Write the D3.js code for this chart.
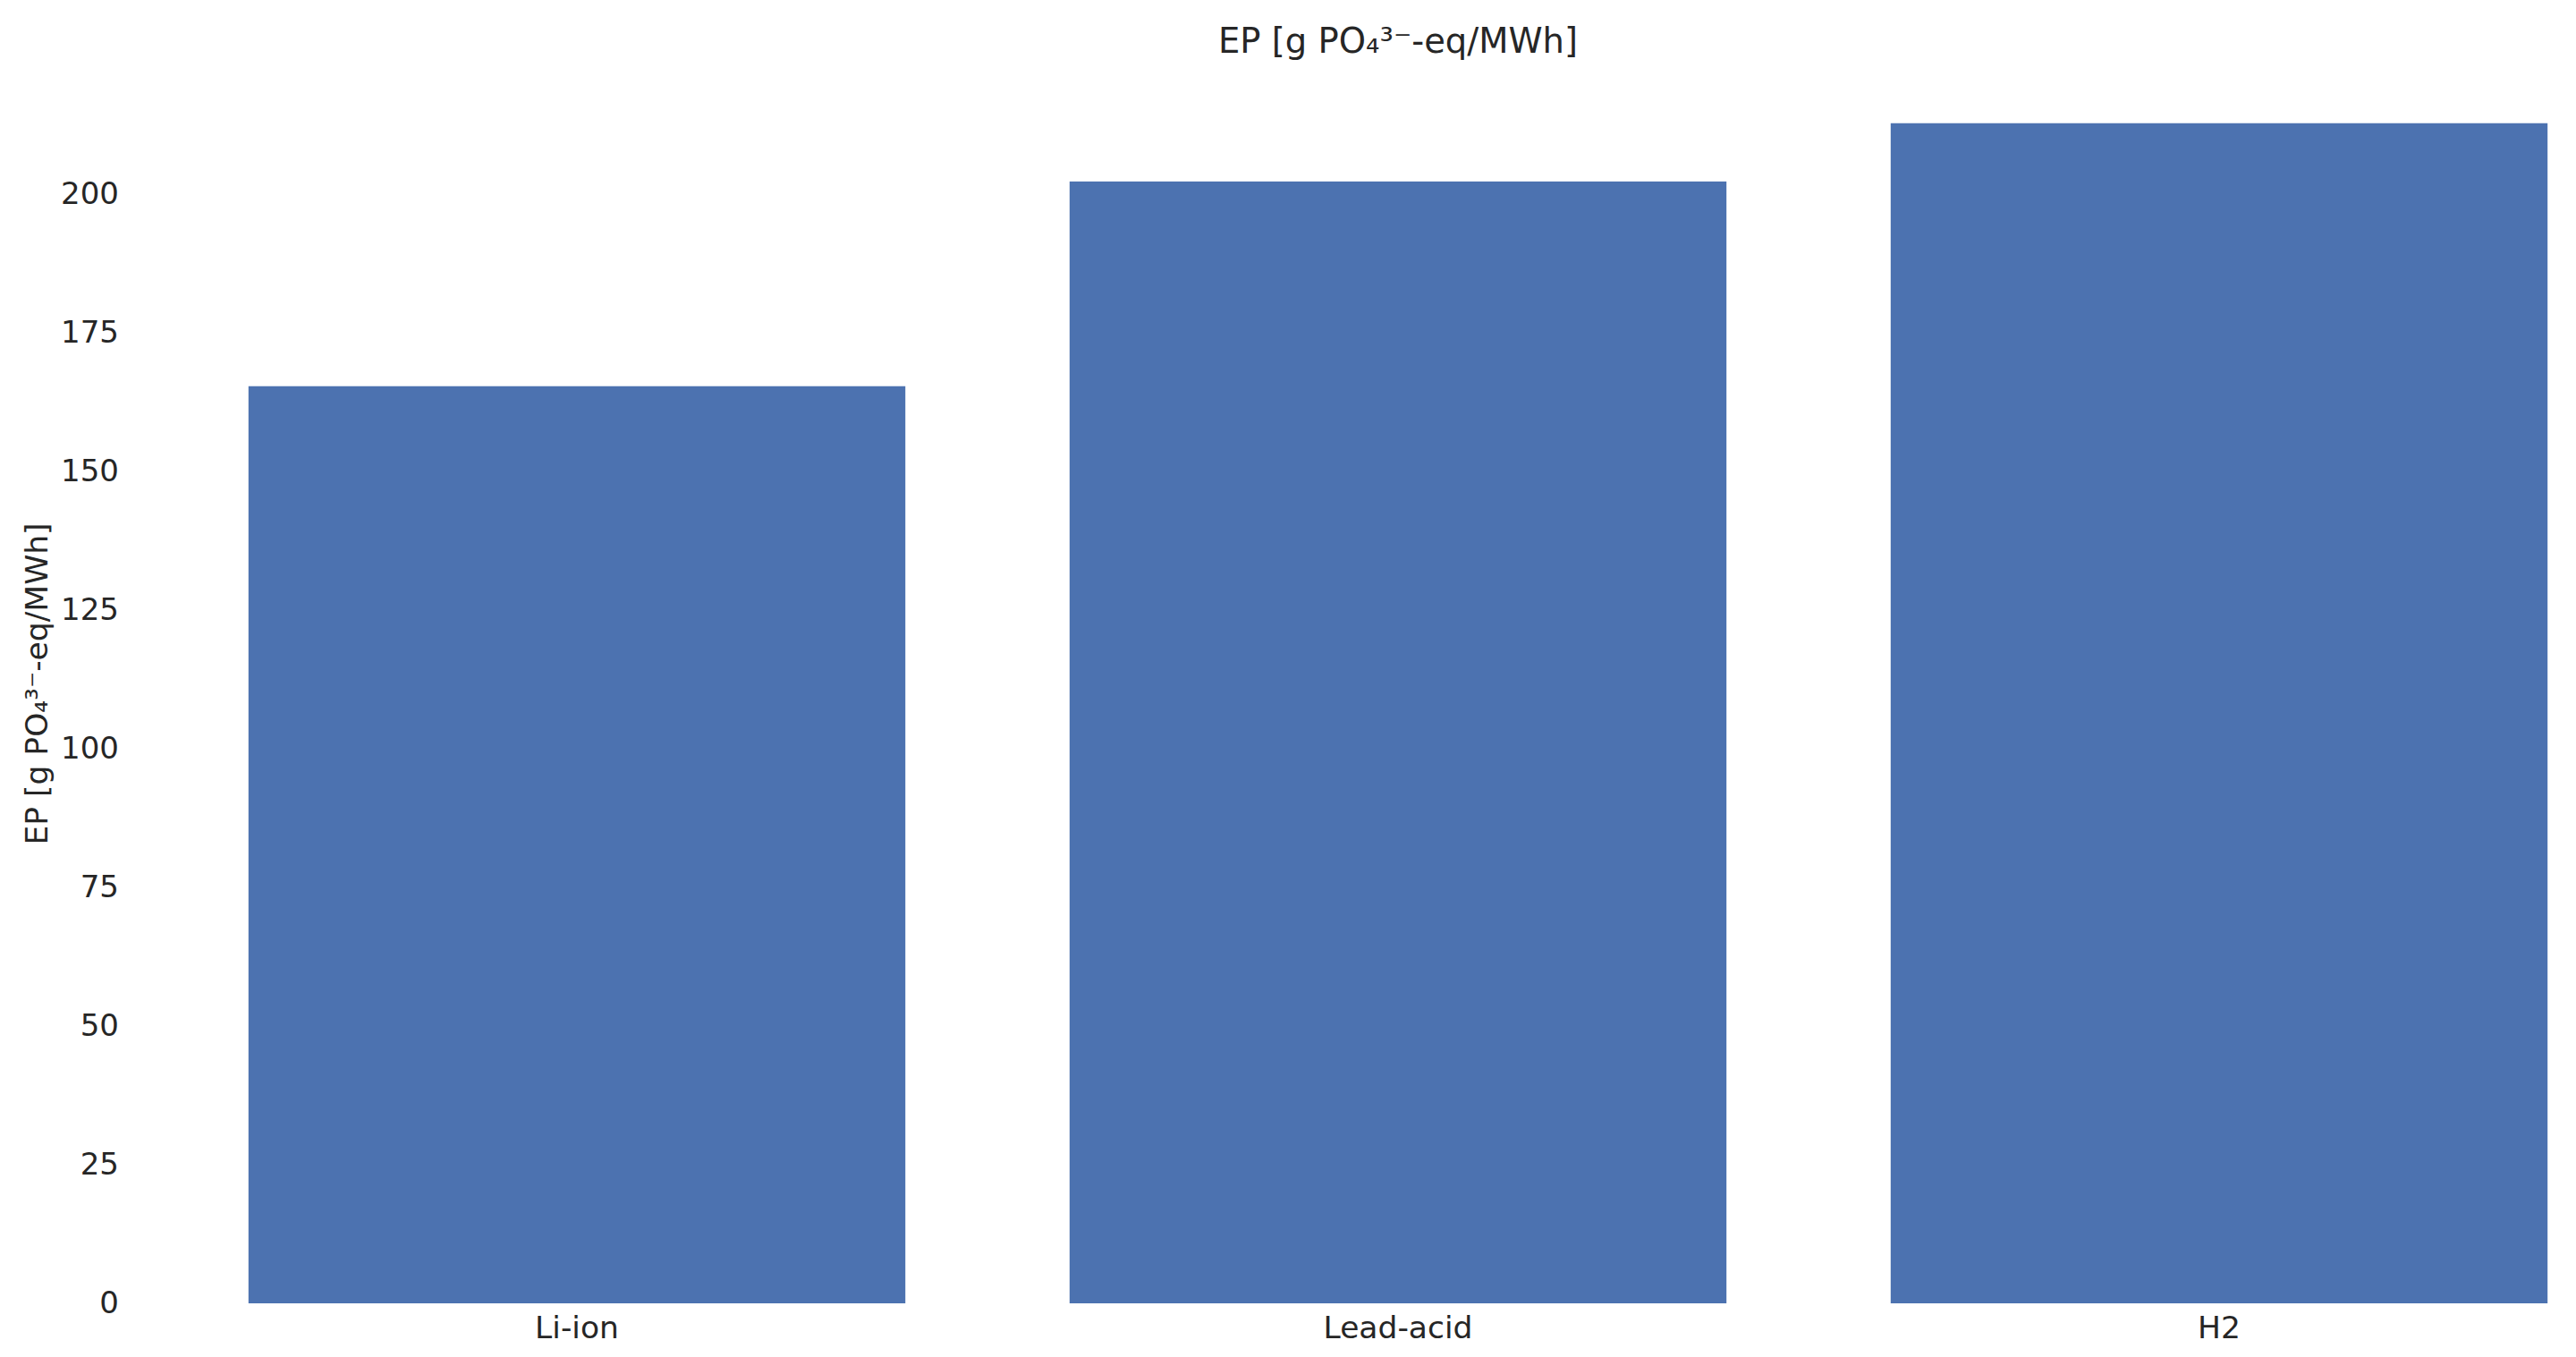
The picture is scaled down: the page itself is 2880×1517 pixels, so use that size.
<!DOCTYPE html>
<html>
<head>
<meta charset="utf-8">
<script src="https://cdn.jsdelivr.net/npm/d3@7/dist/d3.min.js"></script>
<style>
  html, body { margin: 0; padding: 0; background: #ffffff; }
  svg { display: block; }
  text { font-family: "DejaVu Sans", sans-serif; fill: #262626; }
</style>
</head>
<body>
<svg id="chart" width="2880" height="1517"></svg>
<script>
const categories = ["Li-ion", "Lead-acid", "H2"];
const values = [165.3, 202.2, 212.7];
const yTicks = [0, 25, 50, 75, 100, 125, 150, 175, 200];
const titleText = "EP [g PO\u2084\u00B3\u207B-eq/MWh]";
const yLabelText = "EP [g PO\u2084\u00B3\u207B-eq/MWh]";

(function () {
const plotLeft = 186, plotRight = 2940, plotTop = 72, plotBottom = 1457;

const svg = d3.select("#chart");

const x = d3.scaleBand()
  .domain(categories)
  .range([plotLeft, plotRight])
  .paddingInner(0.2)
  .paddingOuter(0.1);

const y = d3.scaleLinear()
  .domain([0, 223.3])
  .range([plotBottom, plotTop]);

svg.append("g")
  .selectAll("rect")
  .data(categories.map((c, i) => ({c, v: values[i]})))
  .join("rect")
  .attr("x", d => x(d.c))
  .attr("width", x.bandwidth())
  .attr("y", d => y(d.v))
  .attr("height", d => y(0) - y(d.v))
  .attr("fill", "#4C72B0");

const yAxis = svg.append("g")
  .attr("transform", `translate(${plotLeft},0)`)
  .call(d3.axisLeft(y).tickValues(yTicks).tickSize(0).tickPadding(53).tickFormat(d3.format("d")));
yAxis.select(".domain").remove();
yAxis.selectAll("text").style("font-size", "34px").attr("fill", "#262626");

const xAxis = svg.append("g")
  .attr("transform", `translate(0,${plotBottom})`)
  .call(d3.axisBottom(x).tickSize(0).tickPadding(15));
xAxis.select(".domain").remove();
xAxis.selectAll("text").style("font-size", "34.5px").attr("fill", "#262626");

svg.append("text")
  .attr("x", 1563)
  .attr("y", 59)
  .attr("text-anchor", "middle")
  .style("font-size", "38.5px")
  .text(titleText);

svg.append("text")
  .attr("transform", `translate(53,${(plotTop + plotBottom) / 2}) rotate(-90)`)
  .attr("text-anchor", "middle")
  .style("font-size", "34.5px")
  .text(yLabelText);
})();
</script>
</body>
</html>
